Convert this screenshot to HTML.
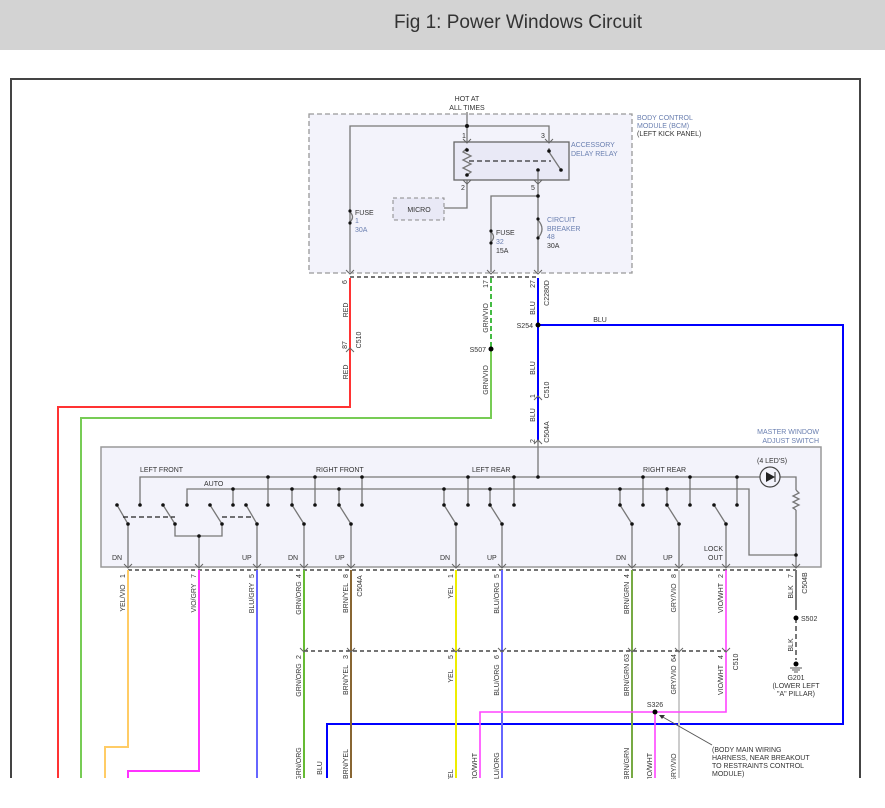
<!DOCTYPE html>
<html><head><meta charset="utf-8"><style>
html,body{margin:0;padding:0;background:#fff;}
svg{display:block;font-family:"Liberation Sans",sans-serif;}
</style></head><body>
<svg width="885" height="808" viewBox="0 0 885 808" xmlns="http://www.w3.org/2000/svg">
<rect x="0" y="0" width="885" height="50" fill="#d3d3d3"/>
<text x="518" y="28" font-size="19" fill="#333" text-anchor="middle" font-weight="300">Fig 1: Power Windows Circuit</text>
<!-- frame -->
<path d="M11 778 V79 H860 V778" fill="none" stroke="#444" stroke-width="2"/>

<!-- BCM -->
<rect x="309" y="114" width="323" height="159" fill="#f3f3fb" stroke="#999" stroke-width="1.3" stroke-dasharray="5,3"/>
<text x="467" y="101" font-size="7" fill="#333" text-anchor="middle">HOT AT</text>
<text x="467" y="110" font-size="7" fill="#333" text-anchor="middle">ALL TIMES</text>
<text x="637" y="120" font-size="7" fill="#6a7fb0">BODY CONTROL</text>
<text x="637" y="128" font-size="7" fill="#6a7fb0">MODULE (BCM)</text>
<text x="637" y="136" font-size="7" fill="#333">(LEFT KICK PANEL)</text>
<g stroke="#777" stroke-width="1.3" fill="none">
<path d="M467 112 V142 M350 272 V126 H549 V142"/>
<rect x="454" y="142" width="115" height="38" fill="#e9e9f6" stroke="#666"/>
<path d="M467 148 L463 152 L471 156 L463 160 L471 164 L463 168 L471 172 L467 175"/>
<path d="M467 180 V208 H444"/>
<path d="M538 172 V196 H491 V272 M538 196 V272"/>
<path d="M549 148 V152 L561 170"/>
<path d="M350 212 q5 5 0 10 M491 232 q5 5 0 10 M538 220 q8 9 0 18"/>
</g>
<path d="M469 161 H551" stroke="#333" stroke-width="1.2" stroke-dasharray="5,3"/>
<rect x="393" y="198" width="51" height="22" fill="#e9e9f6" stroke="#888" stroke-dasharray="4,3"/>
<text x="419" y="212" font-size="7" fill="#333" text-anchor="middle">MICRO</text>
<g fill="#111"><circle cx="467" cy="126" r="2"/><circle cx="467" cy="150" r="1.8"/><circle cx="467" cy="175" r="1.8"/><circle cx="549" cy="151" r="1.8"/><circle cx="561" cy="170" r="1.8"/><circle cx="538" cy="170" r="1.8"/><circle cx="538" cy="196" r="1.8"/><circle cx="350" cy="211" r="1.6"/><circle cx="350" cy="223" r="1.6"/><circle cx="491" cy="231" r="1.6"/><circle cx="491" cy="243" r="1.6"/><circle cx="538" cy="219" r="1.6"/><circle cx="538" cy="238" r="1.6"/></g>
<text x="462" y="138" font-size="7" fill="#333">1</text><text x="541" y="138" font-size="7" fill="#333">3</text>
<text x="461" y="190" font-size="7" fill="#333">2</text><text x="531" y="190" font-size="7" fill="#333">5</text>
<text x="571" y="147" font-size="7" fill="#6a7fb0">ACCESSORY</text><text x="571" y="156" font-size="7" fill="#6a7fb0">DELAY RELAY</text>
<text x="355" y="215" font-size="7" fill="#333">FUSE</text><text x="355" y="223" font-size="7" fill="#6a7fb0">1</text><text x="355" y="232" font-size="7" fill="#6a7fb0">30A</text>
<text x="496" y="235" font-size="7" fill="#333">FUSE</text><text x="496" y="244" font-size="7" fill="#6a7fb0">32</text><text x="496" y="253" font-size="7" fill="#333">15A</text>
<text x="547" y="222" font-size="7" fill="#6a7fb0">CIRCUIT</text><text x="547" y="231" font-size="7" fill="#6a7fb0">BREAKER</text><text x="547" y="239" font-size="7" fill="#6a7fb0">48</text><text x="547" y="248" font-size="7" fill="#333">30A</text>
<path d="M350 277 H538" stroke="#222" stroke-width="1.2" stroke-dasharray="4,3"/>

<!-- wires from BCM -->
<path d="M350 278 V407 H58 V778" fill="none" stroke="#f33" stroke-width="2"/>
<path d="M491 278 V349" fill="none" stroke="#4b4" stroke-width="2" stroke-dasharray="5,3"/>
<path d="M491 349 V418 H81 V778" fill="none" stroke="#7c5" stroke-width="2"/>
<path d="M538 278 V440" stroke="#00f" stroke-width="2"/>
<path d="M538 325 H843 V724 H327 V778" fill="none" stroke="#00f" stroke-width="2"/>
<circle cx="491" cy="349" r="2.5"/><circle cx="538" cy="325" r="2.5"/>
<g font-size="7" fill="#333" text-anchor="middle">
<text transform="translate(348,310) rotate(-90)">RED</text>
<text transform="translate(348,372) rotate(-90)">RED</text>
<text transform="translate(347,282) rotate(-90)">6</text>
<text transform="translate(347,345) rotate(-90)">87</text>
<text transform="translate(361,340) rotate(-90)">C510</text>
<text transform="translate(488,318) rotate(-90)">GRN/VIO</text>
<text transform="translate(488,380) rotate(-90)">GRN/VIO</text>
<text transform="translate(488,284) rotate(-90)">17</text>
<text transform="translate(535,308) rotate(-90)">BLU</text>
<text transform="translate(535,284) rotate(-90)">27</text>
<text transform="translate(549,293) rotate(-90)">C2280D</text>
<text transform="translate(535,368) rotate(-90)">BLU</text>
<text transform="translate(535,396) rotate(-90)">1</text>
<text transform="translate(549,390) rotate(-90)">C510</text>
<text transform="translate(535,415) rotate(-90)">BLU</text>
<text transform="translate(535,441) rotate(-90)">2</text>
<text transform="translate(549,432) rotate(-90)">C504A</text>
</g>
<text x="486" y="352" font-size="7" fill="#333" text-anchor="end">S507</text>
<text x="533" y="328" font-size="7" fill="#333" text-anchor="end">S254</text>
<text x="600" y="322" font-size="7" fill="#333" text-anchor="middle">BLU</text>

<!-- master switch -->
<rect x="101" y="447" width="720" height="120" fill="#f3f3fb" stroke="#999" stroke-width="1.5"/>
<text x="819" y="434" font-size="7" fill="#6a7fb0" text-anchor="end">MASTER WINDOW</text>
<text x="819" y="443" font-size="7" fill="#6a7fb0" text-anchor="end">ADJUST SWITCH</text>
<g font-size="7" fill="#333">
<text x="140" y="472">LEFT FRONT</text><text x="316" y="472">RIGHT FRONT</text><text x="472" y="472">LEFT REAR</text><text x="643" y="472">RIGHT REAR</text>
<text x="204" y="486">AUTO</text><text x="757" y="463">(4 LED'S)</text>
<text x="112" y="560">DN</text><text x="242" y="560">UP</text><text x="288" y="560">DN</text><text x="335" y="560">UP</text>
<text x="440" y="560">DN</text><text x="487" y="560">UP</text><text x="616" y="560">DN</text><text x="663" y="560">UP</text>
<text x="704" y="551">LOCK</text><text x="708" y="560">OUT</text>
</g>
<g stroke="#777" stroke-width="1.3" fill="none">
<path d="M538 440 V477 M140 505 V477 H760 M780 477 H796 V490 M796 510 V567"/>
<path d="M796 490 l3 3 l-6 3 l6 3 l-6 3 l6 3 l-6 3 l3 2"/>
<path d="M187 505 V489 H749 V555 H796"/>
<path d="M233 505 V489 M268 505 V477 M315 505 V477 M362 505 V477 M292 505 V489 M339 505 V489 M444 505 V489 M490 505 V489 M468 505 V477 M514 505 V477 M620 505 V489 M667 505 V489 M643 505 V477 M690 505 V477 M737 505 V477"/>
<path d="M117 505 L128 524 V567 M163 505 L175 524 V536 H222 V524 L210 505 M199 536 V567 M246 505 L257 524 V567"/>
<path d="M292 505 L304 524 V567 M339 505 L351 524 V567 M444 505 L456 524 V567 M490 505 L502 524 V567"/>
<path d="M620 505 L632 524 V567 M667 505 L679 524 V567 M714 505 L726 524 V567"/>
</g>
<circle cx="770" cy="477" r="10" fill="none" stroke="#444" stroke-width="1.2"/>
<path d="M766 472 L775 477 L766 482 Z" fill="#222"/><path d="M775 472 V482" stroke="#222"/>
<path d="M123 517 H175 M222 517 H254" stroke="#222" stroke-width="1.2" stroke-dasharray="5,3"/>
<g fill="#111">
<circle cx="140" cy="505" r="1.8"/><circle cx="187" cy="505" r="1.8"/><circle cx="233" cy="505" r="1.8"/><circle cx="268" cy="505" r="1.8"/><circle cx="315" cy="505" r="1.8"/><circle cx="362" cy="505" r="1.8"/><circle cx="468" cy="505" r="1.8"/><circle cx="514" cy="505" r="1.8"/><circle cx="643" cy="505" r="1.8"/><circle cx="690" cy="505" r="1.8"/><circle cx="737" cy="505" r="1.8"/>
<circle cx="117" cy="505" r="1.8"/><circle cx="163" cy="505" r="1.8"/><circle cx="210" cy="505" r="1.8"/><circle cx="246" cy="505" r="1.8"/><circle cx="292" cy="505" r="1.8"/><circle cx="339" cy="505" r="1.8"/><circle cx="444" cy="505" r="1.8"/><circle cx="490" cy="505" r="1.8"/><circle cx="620" cy="505" r="1.8"/><circle cx="667" cy="505" r="1.8"/><circle cx="714" cy="505" r="1.8"/>
<circle cx="128" cy="524" r="1.8"/><circle cx="175" cy="524" r="1.8"/><circle cx="222" cy="524" r="1.8"/><circle cx="257" cy="524" r="1.8"/><circle cx="304" cy="524" r="1.8"/><circle cx="351" cy="524" r="1.8"/><circle cx="456" cy="524" r="1.8"/><circle cx="502" cy="524" r="1.8"/><circle cx="632" cy="524" r="1.8"/><circle cx="679" cy="524" r="1.8"/><circle cx="726" cy="524" r="1.8"/>
<circle cx="199" cy="536" r="1.8"/>
<circle cx="233" cy="489" r="1.8"/><circle cx="292" cy="489" r="1.8"/><circle cx="339" cy="489" r="1.8"/><circle cx="444" cy="489" r="1.8"/><circle cx="490" cy="489" r="1.8"/><circle cx="620" cy="489" r="1.8"/><circle cx="667" cy="489" r="1.8"/>
<circle cx="268" cy="477" r="1.8"/><circle cx="315" cy="477" r="1.8"/><circle cx="362" cy="477" r="1.8"/><circle cx="468" cy="477" r="1.8"/><circle cx="514" cy="477" r="1.8"/><circle cx="538" cy="477" r="1.8"/><circle cx="643" cy="477" r="1.8"/><circle cx="690" cy="477" r="1.8"/><circle cx="737" cy="477" r="1.8"/>
<circle cx="796" cy="555" r="1.8"/>
</g>
<path d="M128 570 H796" stroke="#222" stroke-width="1.2" stroke-dasharray="4,3"/>

<!-- lower wires -->
<g fill="none" stroke-width="2">
<path d="M128 570 V747 H105 V778" stroke="#fc6"/>
<path d="M128 747 V747" stroke="#ff0"/>
<path d="M199 570 V771 H128 V778" stroke="#f3f"/>
<path d="M257 570 V778" stroke="#66f"/>
<path d="M304 570 V778" stroke="#6b3"/>
<path d="M351 570 V778" stroke="#863"/>
<path d="M456 570 V778" stroke="#ee0"/>
<path d="M502 570 V778" stroke="#66f"/>
<path d="M632 570 V778" stroke="#7a4"/>
<path d="M679 570 V778" stroke="#ccc"/>
<path d="M726 570 V712 H480 V778" stroke="#f4f" stroke-width="1.6"/>
<path d="M655 712 V778" stroke="#f4f" stroke-width="1.6"/>
<path d="M796 570 V610" stroke="#777"/>
<path d="M796 618 V660" stroke="#777" stroke-dasharray="5,3"/>
</g>
<path d="M304 651 H726" stroke="#222" stroke-width="1.2" stroke-dasharray="4,3"/>
<circle cx="655" cy="712" r="2.5"/><circle cx="796" cy="618" r="2.5"/><circle cx="796" cy="664" r="2.5"/>
<path d="M790 668 H802 M792 670 H800 M794 672 H798" stroke="#555"/>
<path d="M712 745 L661 716" stroke="#555"/><path d="M659 715 l6 0 l-3 4 z" fill="#333"/>
<g font-size="7" fill="#333" text-anchor="middle">
<text x="796" y="680">G201</text><text x="796" y="688">(LOWER LEFT</text><text x="796" y="696">"A" PILLAR)</text>
<text x="655" y="707">S326</text>
</g>
<text x="801" y="621" font-size="7" fill="#333">S502</text>
<g font-size="7" fill="#333">
<text x="712" y="752">(BODY MAIN WIRING</text><text x="712" y="760">HARNESS, NEAR BREAKOUT</text><text x="712" y="768">TO RESTRAINTS CONTROL</text><text x="712" y="776">MODULE)</text>
</g>
<g font-size="7" fill="#333" text-anchor="middle">
<text transform="translate(125,576) rotate(-90)">1</text><text transform="translate(125,598) rotate(-90)">YEL/VIO</text>
<text transform="translate(196,576) rotate(-90)">7</text><text transform="translate(196,598) rotate(-90)">VIO/GRY</text>
<text transform="translate(254,576) rotate(-90)">5</text><text transform="translate(254,598) rotate(-90)">BLU/GRY</text>
<text transform="translate(301,576) rotate(-90)">4</text><text transform="translate(301,598) rotate(-90)">GRN/ORG</text>
<text transform="translate(348,576) rotate(-90)">8</text><text transform="translate(348,598) rotate(-90)">BRN/YEL</text><text transform="translate(362,586) rotate(-90)">C504A</text>
<text transform="translate(453,576) rotate(-90)">1</text><text transform="translate(453,592) rotate(-90)">YEL</text>
<text transform="translate(499,576) rotate(-90)">5</text><text transform="translate(499,598) rotate(-90)">BLU/ORG</text>
<text transform="translate(629,576) rotate(-90)">4</text><text transform="translate(629,598) rotate(-90)">BRN/GRN</text>
<text transform="translate(676,576) rotate(-90)">8</text><text transform="translate(676,598) rotate(-90)">GRY/VIO</text>
<text transform="translate(723,576) rotate(-90)">2</text><text transform="translate(723,598) rotate(-90)">VIO/WHT</text>
<text transform="translate(793,576) rotate(-90)">7</text><text transform="translate(793,592) rotate(-90)">BLK</text><text transform="translate(807,583) rotate(-90)">C504B</text>
<text transform="translate(793,645) rotate(-90)">BLK</text>
<text transform="translate(301,657) rotate(-90)">2</text><text transform="translate(301,680) rotate(-90)">GRN/ORG</text>
<text transform="translate(348,657) rotate(-90)">3</text><text transform="translate(348,680) rotate(-90)">BRN/YEL</text>
<text transform="translate(453,657) rotate(-90)">5</text><text transform="translate(453,676) rotate(-90)">YEL</text>
<text transform="translate(499,657) rotate(-90)">6</text><text transform="translate(499,680) rotate(-90)">BLU/ORG</text>
<text transform="translate(629,658) rotate(-90)">63</text><text transform="translate(629,680) rotate(-90)">BRN/GRN</text>
<text transform="translate(676,658) rotate(-90)">64</text><text transform="translate(676,680) rotate(-90)">GRY/VIO</text>
<text transform="translate(723,657) rotate(-90)">4</text><text transform="translate(723,680) rotate(-90)">VIO/WHT</text><text transform="translate(738,662) rotate(-90)">C510</text>
<text transform="translate(301,764) rotate(-90)">GRN/ORG</text><text transform="translate(322,768) rotate(-90)">BLU</text>
<text transform="translate(348,764) rotate(-90)">BRN/YEL</text><text transform="translate(453,776) rotate(-90)">YEL</text>
<text transform="translate(477,768) rotate(-90)">VIO/WHT</text><text transform="translate(499,768) rotate(-90)">BLU/ORG</text>
<text transform="translate(629,764) rotate(-90)">BRN/GRN</text><text transform="translate(652,768) rotate(-90)">VIO/WHT</text>
<text transform="translate(676,768) rotate(-90)">GRY/VIO</text>
</g>
<!-- connector ticks -->
<g stroke="#666" stroke-width="1" fill="none">
<path d="M346 270 l4 4 l4 -4 M487 270 l4 4 l4 -4 M534 270 l4 4 l4 -4 M463 139 l4 4 l4 -4 M545 139 l4 4 l4 -4 M463 180 l4 4 l4 -4 M534 180 l4 4 l4 -4"/>
<path d="M534 444 l4 -4 l4 4 M346 352 l4 -4 l4 4 M534 400 l4 -4 l4 4"/>
<path d="M124 564 l4 4 l4 -4 M195 564 l4 4 l4 -4 M253 564 l4 4 l4 -4 M300 564 l4 4 l4 -4 M347 564 l4 4 l4 -4 M452 564 l4 4 l4 -4 M498 564 l4 4 l4 -4 M628 564 l4 4 l4 -4 M675 564 l4 4 l4 -4 M722 564 l4 4 l4 -4 M792 564 l4 4 l4 -4"/>
<path d="M300 648 l4 4 l4 -4 M347 648 l4 4 l4 -4 M452 648 l4 4 l4 -4 M498 648 l4 4 l4 -4 M628 648 l4 4 l4 -4 M675 648 l4 4 l4 -4 M722 648 l4 4 l4 -4"/>
</g>
<rect x="0" y="779" width="885" height="29" fill="#fff"/>
</svg>
</body></html>
